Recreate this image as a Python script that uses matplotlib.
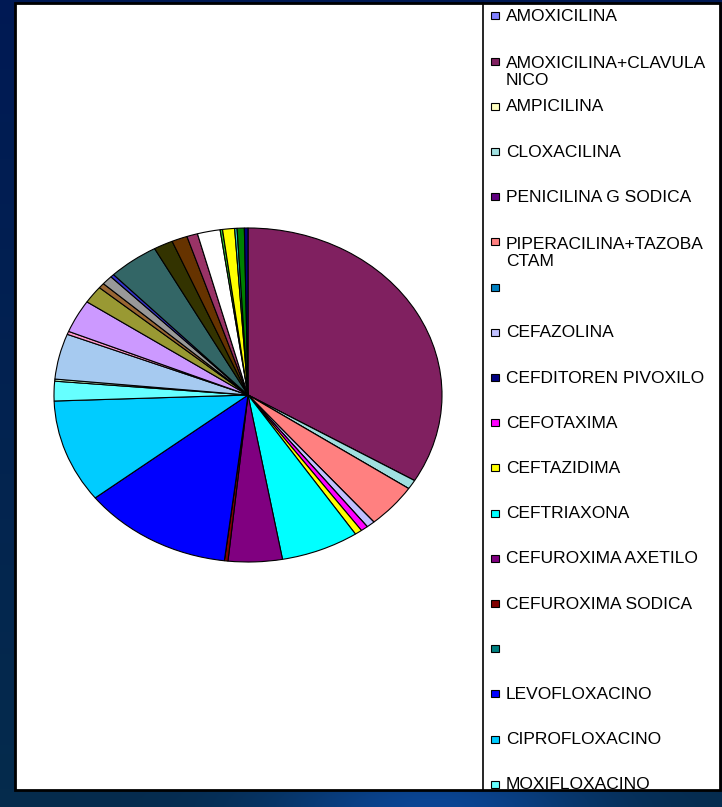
import numpy as np
import matplotlib.pyplot as plt
from matplotlib.patches import Rectangle

plt.rcParams['font.family'] = ['Liberation Sans', 'DejaVu Sans']

# Slices in drawing order (clockwise from 12 o'clock); shares in %.
# Entries past MOXIFLOXACINO are cut off in the legend of the original.
labels = [
    "AMOXICILINA", "AMOXICILINA+CLAVULA\nNICO", "AMPICILINA", "CLOXACILINA",
    "PENICILINA G SODICA", "PIPERACILINA+TAZOBA\nCTAM", "", "CEFAZOLINA",
    "CEFDITOREN PIVOXILO", "CEFOTAXIMA", "CEFTAZIDIMA", "CEFTRIAXONA",
    "CEFUROXIMA AXETILO", "CEFUROXIMA SODICA", "", "LEVOFLOXACINO",
    "CIPROFLOXACINO", "MOXIFLOXACINO",
    "", "", "", "", "", "", "", "", "", "", "", "", "", "", "", "", "", "",
]
values = [
    0.0, 33.6, 0.0, 0.9,
    0.0, 4.3, 0.0, 0.7,
    0.0, 0.6, 0.6, 6.5,
    4.5, 0.3, 0.0, 12.5,
    10.0, 1.9,
    0.2, 4.4, 0.3, 3.2, 1.7, 0.5, 0.9, 0.3, 4.2, 1.6, 1.3, 0.9, 1.9, 0.2,
    1.0, 0.2, 0.6, 0.3,
]
colors = [
    "#8080FF", "#802060", "#FFFFC0", "#A0E0E0",
    "#600080", "#FF8080", "#0080C0", "#C0C0FF",
    "#000080", "#FF00FF", "#FFFF00", "#00FFFF",
    "#800080", "#800000", "#008080", "#0000FF",
    "#00CCFF", "#66FFFF",
    "#CCFFCC", "#A6CAF0", "#FF99CC", "#CC99FF", "#999933", "#996633",
    "#999999", "#3333CC", "#336666", "#333300", "#663300", "#993366",
    "#FFFFFF", "#33CC33", "#FFFF00", "#33CCCC", "#008000", "#000080",
]

W, H = 722, 807
fig = plt.figure(figsize=(W / 100, H / 100), dpi=100)


def box(x0, y0, x1, y1):
    # pixel box (top-left origin) -> figure fraction rect
    return [x0 / W, 1 - y1 / H, (x1 - x0) / W, (y1 - y0) / H]


# dark blue slide background with a soft glow at the bottom
bg = fig.add_axes([0, 0, 1, 1], zorder=-10)
yy, xx = np.mgrid[0:1:300j, 0:1:300j]
top = np.array([0.0, 0.10, 0.33])
bottom = np.array([0.02, 0.17, 0.30])
img = top + (bottom - top) * yy[..., None]
glow = np.exp(-((xx - 0.6) / 0.22) ** 2 - ((yy - 1.0) / 0.05) ** 2)
img = img + glow[..., None] * np.array([0.02, 0.10, 0.28])
bg.imshow(np.clip(img, 0, 1), aspect="auto", extent=(0, 1, 1, 0))
bg.axis("off")

# white chart panel
panel = Rectangle((15 / W, 1 - 790 / H), 705 / W, 787 / H, transform=fig.transFigure,
                  facecolor="white", edgecolor="none", zorder=-5)
fig.add_artist(panel)

# pie (elliptical, as in the original)
cx, cy, rx, ry = 248, 395, 194, 167
pad = 1.05
ax = fig.add_axes(box(cx - rx * pad, cy - ry * pad, cx + rx * pad, cy + ry * pad))
ax.pie(values, colors=colors, startangle=90, counterclock=False,
       wedgeprops=dict(edgecolor="black", linewidth=0.8))
ax.set_aspect("auto")
ax.set_xlim(-pad, pad)
ax.set_ylim(-pad, pad)
ax.axis("off")

# legend column, clipped by the panel bottom like in the original
lx0, ly0, lx1, ly1 = 483, 3, 720, 790
lg = fig.add_axes(box(lx0, ly0, lx1, ly1))
lg.set_xlim(lx0, lx1)
lg.set_ylim(ly1, ly0)
lg.set_xticks([])
lg.set_yticks([])
lg.patch.set_alpha(0)
for side in ["top", "right", "bottom"]:
    lg.spines[side].set_visible(False)
lg.spines["left"].set_linewidth(1.2)

first_base, step, line_h = 21, 45.2, 19
for i, (lab, col) in enumerate(zip(labels, colors)):
    base = first_base + step * i
    lg.add_patch(Rectangle((491, base - 8.5), 8, 7, facecolor=col, edgecolor="black",
                           linewidth=0.8, clip_on=True))
    # 'baseline' pins the last line, so push wrapped labels down
    lg.text(506, base + line_h * lab.count("\n"), lab, fontsize=12.5,
            va="baseline", ha="left", linespacing=1.2, clip_on=True)

# panel border on top of everything
border = Rectangle((15 / W, 1 - 790 / H), 705 / W, 787 / H, transform=fig.transFigure,
                   facecolor="none", edgecolor="black", linewidth=2, zorder=10)
fig.add_artist(border)

fig.savefig("out.png", dpi=100)
